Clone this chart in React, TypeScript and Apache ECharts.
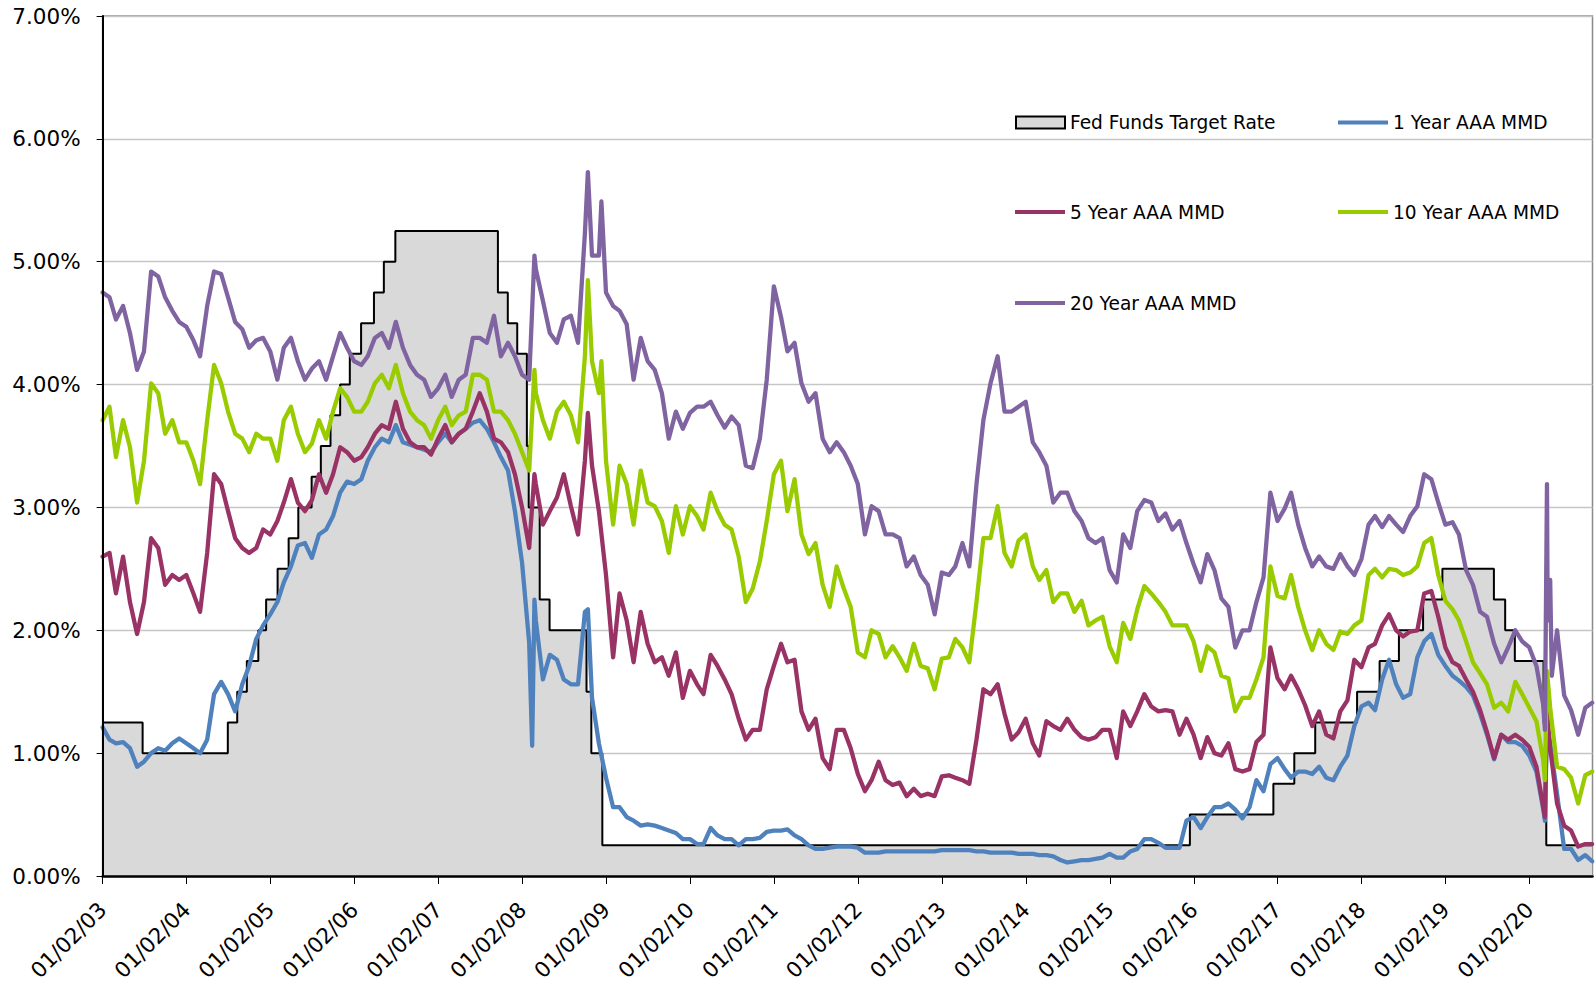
import React, { useEffect, useRef } from "react";
import * as echarts from "echarts";

const START_YEAR = 2003;
const MONTHS = 214; // Jan 2003 .. Oct 2020

// Fed Funds target rate changes (step series)
const fedDates = [
  "2003-01-02", "2003-06-25", "2004-06-30", "2004-08-10", "2004-09-21", "2004-11-10", "2004-12-14",
  "2005-02-02", "2005-03-22", "2005-05-03", "2005-06-30", "2005-08-09", "2005-09-20", "2005-11-01", "2005-12-13",
  "2006-01-31", "2006-03-28", "2006-05-10", "2006-06-29",
  "2007-09-18", "2007-10-31", "2007-12-11", "2008-01-22", "2008-01-30", "2008-03-18", "2008-04-30",
  "2008-10-08", "2008-10-29", "2008-12-16",
  "2015-12-16", "2016-12-14", "2017-03-15", "2017-06-14", "2017-12-13", "2018-03-21", "2018-06-13", "2018-09-26", "2018-12-19",
  "2019-07-31", "2019-09-18", "2019-10-30", "2020-03-03", "2020-03-15", "2020-10-01",
];
const fedRates = [
  1.25, 1.0, 1.25, 1.5, 1.75, 2.0, 2.25,
  2.5, 2.75, 3.0, 3.25, 3.5, 3.75, 4.0, 4.25,
  4.5, 4.75, 5.0, 5.25,
  4.75, 4.5, 4.25, 3.5, 3.0, 2.25, 2.0,
  1.5, 1.0, 0.25,
  0.5, 0.75, 1.0, 1.25, 1.5, 1.75, 2.0, 2.25, 2.5,
  2.25, 2.0, 1.75, 1.25, 0.25, 0.25,
];

// Monthly readings (first of each month), one row per year
const oneYear = [
  1.21, 1.11, 1.08, 1.09, 1.04, 0.89, 0.93, 1.00, 1.04, 1.02, 1.08, 1.12,
  1.08, 1.04, 1.00, 1.11, 1.48, 1.58, 1.48, 1.34, 1.56, 1.71, 1.93, 2.04,
  2.13, 2.23, 2.39, 2.52, 2.69, 2.71, 2.59, 2.78, 2.82, 2.93, 3.12, 3.21,
  3.19, 3.23, 3.38, 3.49, 3.56, 3.53, 3.67, 3.53, 3.51, 3.49, 3.47, 3.45,
  3.53, 3.60, 3.53, 3.60, 3.64, 3.69, 3.71, 3.64, 3.53, 3.41, 3.30, 2.97,
  2.55, 1.90, 2.08, 1.60, 1.80, 1.76, 1.60, 1.56, 1.56, 2.15, 1.45, 1.08,
  0.80, 0.56, 0.56, 0.48, 0.45, 0.41, 0.42, 0.41, 0.39, 0.37, 0.35, 0.30,
  0.30, 0.26, 0.26, 0.39, 0.33, 0.30, 0.30, 0.25, 0.30, 0.30, 0.31, 0.36,
  0.37, 0.37, 0.38, 0.33, 0.30, 0.25, 0.22, 0.22, 0.23, 0.24, 0.24, 0.24,
  0.23, 0.19, 0.19, 0.19, 0.20, 0.20, 0.20, 0.20, 0.20, 0.20, 0.20, 0.20,
  0.21, 0.21, 0.21, 0.21, 0.21, 0.20, 0.20, 0.19, 0.19, 0.19, 0.19, 0.18,
  0.18, 0.18, 0.17, 0.17, 0.16, 0.13, 0.11, 0.12, 0.13, 0.13, 0.14, 0.15,
  0.18, 0.15, 0.15, 0.20, 0.22, 0.30, 0.30, 0.27, 0.23, 0.23, 0.23, 0.45,
  0.48, 0.39, 0.48, 0.56, 0.56, 0.59, 0.54, 0.47, 0.56, 0.78, 0.69, 0.91,
  0.96, 0.87, 0.80, 0.85, 0.85, 0.83, 0.89, 0.80, 0.78, 0.89, 0.98, 1.22,
  1.38, 1.41, 1.35, 1.60, 1.76, 1.56, 1.45, 1.48, 1.78, 1.91, 1.97, 1.80,
  1.71, 1.63, 1.59, 1.54, 1.47, 1.32, 1.15, 0.95, 1.15, 1.09, 1.09, 1.06,
  0.98, 0.85, 0.55, 1.08, 0.67, 0.22, 0.22, 0.13, 0.17, 0.12,
];
const fiveYear = [
  2.60, 2.63, 2.30, 2.60, 2.23, 1.97, 2.23, 2.75, 2.67, 2.37, 2.45, 2.41,
  2.45, 2.30, 2.15, 2.63, 3.27, 3.19, 2.97, 2.75, 2.67, 2.63, 2.67, 2.82,
  2.78, 2.89, 3.04, 3.23, 3.04, 2.97, 3.06, 3.27, 3.12, 3.27, 3.49, 3.45,
  3.38, 3.41, 3.49, 3.60, 3.67, 3.64, 3.86, 3.64, 3.53, 3.49, 3.49, 3.43,
  3.56, 3.67, 3.53, 3.60, 3.64, 3.78, 3.93, 3.78, 3.56, 3.53, 3.45, 3.27,
  3.00, 2.67, 3.19, 2.86, 2.97, 3.08, 3.27, 3.01, 2.78, 3.38, 3.34, 2.97,
  2.45, 1.78, 2.30, 2.08, 1.74, 2.15, 1.89, 1.74, 1.78, 1.63, 1.82, 1.45,
  1.67, 1.56, 1.48, 1.80, 1.71, 1.60, 1.48, 1.28, 1.11, 1.19, 1.19, 1.52,
  1.71, 1.89, 1.74, 1.76, 1.34, 1.19, 1.28, 0.96, 0.87, 1.19, 1.19, 1.04,
  0.83, 0.69, 0.78, 0.93, 0.78, 0.74, 0.76, 0.65, 0.71, 0.65, 0.67, 0.65,
  0.81, 0.82, 0.80, 0.78, 0.75, 1.11, 1.52, 1.48, 1.56, 1.32, 1.11, 1.17,
  1.28, 1.08, 0.98, 1.26, 1.22, 1.19, 1.28, 1.19, 1.13, 1.11, 1.13, 1.19,
  1.19, 0.96, 1.34, 1.22, 1.34, 1.48, 1.38, 1.34, 1.35, 1.34, 1.15, 1.28,
  1.15, 0.96, 1.13, 1.00, 0.98, 1.08, 0.87, 0.85, 0.87, 1.09, 1.15, 1.86,
  1.61, 1.52, 1.63, 1.52, 1.39, 1.22, 1.34, 1.15, 1.12, 1.34, 1.43, 1.76,
  1.70, 1.86, 1.89, 2.04, 2.13, 2.00, 1.95, 1.99, 2.00, 2.30, 2.32, 2.11,
  1.86, 1.74, 1.71, 1.60, 1.50, 1.35, 1.17, 0.96, 1.15, 1.11, 1.15, 1.11,
  1.05, 0.89, 0.57, 1.04, 0.59, 0.41, 0.37, 0.24, 0.26, 0.26,
];
const tenYear = [
  3.71, 3.82, 3.41, 3.71, 3.49, 3.04, 3.38, 4.01, 3.93, 3.60, 3.71, 3.53,
  3.53, 3.38, 3.19, 3.71, 4.16, 4.01, 3.78, 3.60, 3.56, 3.45, 3.60, 3.56,
  3.56, 3.38, 3.71, 3.82, 3.60, 3.45, 3.52, 3.71, 3.56, 3.78, 3.97, 3.90,
  3.78, 3.78, 3.86, 4.01, 4.08, 3.97, 4.16, 3.93, 3.78, 3.71, 3.67, 3.56,
  3.71, 3.82, 3.67, 3.75, 3.78, 4.08, 4.08, 4.04, 3.78, 3.78, 3.71, 3.60,
  3.45, 3.30, 3.93, 3.71, 3.56, 3.78, 3.86, 3.75, 3.53, 4.23, 4.19, 3.93,
  3.38, 2.86, 3.34, 3.19, 2.86, 3.30, 3.04, 3.01, 2.89, 2.63, 3.01, 2.78,
  3.01, 2.93, 2.82, 3.12, 2.97, 2.86, 2.82, 2.60, 2.23, 2.34, 2.56, 2.89,
  3.27, 3.38, 2.97, 3.23, 2.78, 2.62, 2.71, 2.37, 2.19, 2.52, 2.34, 2.19,
  1.82, 1.78, 2.00, 1.97, 1.78, 1.87, 1.78, 1.67, 1.89, 1.71, 1.69, 1.52,
  1.77, 1.78, 1.93, 1.86, 1.74, 2.23, 2.75, 2.75, 3.01, 2.63, 2.52, 2.73,
  2.78, 2.52, 2.41, 2.49, 2.23, 2.30, 2.30, 2.15, 2.24, 2.04, 2.08, 2.11,
  1.87, 1.74, 2.06, 1.93, 2.17, 2.36, 2.30, 2.23, 2.15, 2.04, 2.04, 2.04,
  1.91, 1.67, 1.87, 1.82, 1.63, 1.61, 1.34, 1.45, 1.45, 1.60, 1.78, 2.52,
  2.28, 2.26, 2.45, 2.19, 2.00, 1.84, 2.00, 1.89, 1.84, 1.99, 1.97, 2.04,
  2.08, 2.45, 2.50, 2.43, 2.50, 2.49, 2.45, 2.47, 2.52, 2.71, 2.75, 2.45,
  2.24, 2.17, 2.08, 1.91, 1.74, 1.65, 1.56, 1.37, 1.41, 1.34, 1.58, 1.48,
  1.37, 1.26, 0.95, 1.37, 0.89, 0.87, 0.80, 0.59, 0.82, 0.85,
];
const twentyYear = [
  4.75, 4.71, 4.53, 4.64, 4.42, 4.12, 4.27, 4.92, 4.88, 4.71, 4.60, 4.51,
  4.47, 4.36, 4.23, 4.64, 4.92, 4.90, 4.71, 4.51, 4.45, 4.30, 4.36, 4.38,
  4.27, 4.04, 4.30, 4.38, 4.19, 4.04, 4.13, 4.19, 4.04, 4.23, 4.42, 4.30,
  4.19, 4.16, 4.23, 4.38, 4.42, 4.30, 4.51, 4.30, 4.16, 4.08, 4.04, 3.90,
  3.97, 4.08, 3.90, 4.04, 4.08, 4.38, 4.38, 4.34, 4.56, 4.23, 4.34, 4.23,
  4.08, 4.04, 4.94, 4.68, 4.42, 4.34, 4.53, 4.56, 4.34, 5.23, 5.05, 5.05,
  4.75, 4.64, 4.60, 4.49, 4.04, 4.38, 4.19, 4.12, 3.93, 3.56, 3.78, 3.64,
  3.77, 3.82, 3.82, 3.86, 3.75, 3.65, 3.74, 3.67, 3.34, 3.32, 3.56, 4.04,
  4.80, 4.55, 4.27, 4.34, 4.01, 3.86, 3.93, 3.56, 3.45, 3.53, 3.45, 3.34,
  3.19, 2.78, 3.01, 2.97, 2.78, 2.78, 2.75, 2.52, 2.60, 2.45, 2.37, 2.13,
  2.47, 2.45, 2.52, 2.71, 2.52, 3.19, 3.71, 4.01, 4.23, 3.78, 3.78, 3.82,
  3.86, 3.53, 3.45, 3.34, 3.04, 3.12, 3.12, 2.97, 2.89, 2.75, 2.71, 2.75,
  2.49, 2.39, 2.78, 2.67, 2.97, 3.06, 3.04, 2.89, 2.95, 2.82, 2.89, 2.71,
  2.54, 2.39, 2.62, 2.49, 2.26, 2.19, 1.86, 2.00, 2.00, 2.23, 2.43, 3.12,
  2.89, 2.99, 3.12, 2.86, 2.67, 2.52, 2.60, 2.52, 2.50, 2.62, 2.52, 2.45,
  2.58, 2.86, 2.93, 2.84, 2.93, 2.86, 2.80, 2.93, 3.01, 3.27, 3.23, 3.04,
  2.86, 2.88, 2.78, 2.49, 2.37, 2.15, 2.11, 1.89, 1.74, 1.86, 2.00, 1.91,
  1.86, 1.71, 1.40, 2.41, 2.00, 1.47, 1.35, 1.15, 1.37, 1.41,
];

// Extra readings between month starts (spikes); null = no extra reading
const extraDates = ["2008-02-14", "2008-02-24", "2008-10-14", "2008-12-12", "2020-03-09", "2020-03-18", "2020-03-21", "2020-04-08"];
const oneYearExtra = [1.06, 2.25, 2.17, null, 0.45, 1.22, null, null];
const fiveYearExtra = [null, 3.27, 3.77, null, 0.48, 1.34, null, null];
const tenYearExtra = [null, 4.12, 4.85, 4.19, 0.78, 1.67, null, null];
const twentyYearExtra = [null, 5.05, 5.73, 5.49, 1.19, 3.19, 2.08, 1.63];

const yTicks = [0, 1, 2, 3, 4, 5, 6, 7];
const yearTicks = [0, 1, 2, 3, 4, 5, 6, 7, 8, 9, 10, 11, 12, 13, 14, 15, 16, 17];

const FONT = "'DejaVu Sans', Verdana, sans-serif";

function toYears(dateStr: string): number {
  const [y, m, d] = dateStr.split("-").map(Number);
  const ms = Date.UTC(y, m - 1, d);
  let base = y;
  if (ms < Date.UTC(y, 0, 2)) base = y - 1;
  const a = Date.UTC(base, 0, 2);
  const b = Date.UTC(base + 1, 0, 2);
  return base - START_YEAR + (ms - a) / (b - a);
}

function monthDate(i: number): string {
  const y = START_YEAR + Math.floor(i / 12);
  const m = (i % 12) + 1;
  const d = i === 0 ? 2 : 1;
  return `${y}-${String(m).padStart(2, "0")}-${String(d).padStart(2, "0")}`;
}

function buildSeries(values: number[], extra: (number | null)[]): number[][] {
  const pts: number[][] = [];
  for (let i = 0; i < Math.min(values.length, MONTHS); i++) pts.push([toYears(monthDate(i)), values[i]]);
  extra.forEach((v, k) => {
    if (v !== null && v !== undefined) pts.push([toYears(extraDates[k]), v]);
  });
  pts.sort((p, q) => p[0] - q[0]);
  return pts;
}

export default function App() {
  const ref = useRef<HTMLDivElement>(null);

  useEffect(() => {
    if (!ref.current) return;
    const chart = echarts.init(ref.current, undefined, { renderer: "svg" });

    const fedData = fedDates.map((d, i) => [toYears(d), fedRates[i]]);

    const lineSeries = (name: string, color: string, data: number[][]) => ({
      name,
      type: "line",
      data,
      symbol: "none",
      silent: true,
      color,
      lineStyle: { color, width: 4.3, join: "round", cap: "round" },
      itemStyle: { color },
      emphasis: { disabled: true },
    });

    const legendBase = {
      orient: "horizontal",
      padding: 0,
      selectedMode: false,
      itemGap: 0,
      textStyle: { fontSize: 18.6, color: "#000", fontFamily: FONT, lineHeight: 22 },
    };

    const lineLegend = (name: string, color: string, left: number, top: number) => ({
      ...legendBase,
      left,
      top,
      itemWidth: 50,
      itemHeight: 4,
      data: [{ name, icon: "rect", itemStyle: { color } }],
    });

    const option: any = {
      animation: false,
      textStyle: { fontFamily: FONT },
      grid: {
        left: 102.6,
        right: 2.5,
        top: 16,
        bottom: 110,
        show: true,
        borderColor: "#8a8a8a",
        borderWidth: 1.5,
        backgroundColor: "transparent",
      },
      xAxis: {
        type: "value",
        min: 0,
        max: 17.75,
        interval: 1,
        z: 10,
        axisLine: { show: true, onZero: false, lineStyle: { color: "#000", width: 2.5 } },
        axisTick: { show: true, length: 8, customValues: yearTicks, lineStyle: { color: "#000", width: 1 } },
        axisLabel: {
          rotate: 45,
          margin: 30,
          fontSize: 21.5,
          color: "#000",
          fontFamily: FONT,
          customValues: yearTicks,
          formatter: (v: number) =>
            Math.abs(v - Math.round(v)) < 1e-6
              ? "01/02/" + String((START_YEAR + Math.round(v)) % 100).padStart(2, "0")
              : "",
        },
        splitLine: { show: false },
      },
      yAxis: [
        {
          type: "value",
          min: 0,
          max: 7,
          interval: 1,
          axisLine: { show: false },
          axisTick: { show: true, length: 6, customValues: yTicks, lineStyle: { color: "#000", width: 1 } },
          axisLabel: {
            margin: 22,
            fontSize: 21.5,
            color: "#000",
            fontFamily: FONT,
            formatter: (v: number) => v.toFixed(2) + "%",
          },
          splitLine: { show: true, lineStyle: { color: "#c6c6c6", width: 1.3 } },
        },
        {
          type: "value",
          min: 0,
          max: 7,
          interval: 1,
          position: "left",
          z: 10,
          axisLine: { show: true, lineStyle: { color: "#000", width: 2 } },
          axisTick: { show: false },
          axisLabel: { show: false },
          splitLine: { show: false },
        },
      ],
      legend: [
        {
          ...legendBase,
          left: 1015,
          top: 111.5,
          itemWidth: 49,
          itemHeight: 12,
          data: [
            {
              name: "Fed Funds Target Rate",
              icon: "rect",
              itemStyle: { color: "#d9d9d9", borderColor: "#000", borderWidth: 2 },
            },
          ],
        },
        lineLegend("1 Year AAA MMD", "#4f81bd", 1338, 111.5),
        lineLegend("5 Year AAA MMD", "#993366", 1015, 201),
        lineLegend("10 Year AAA MMD", "#99cc00", 1338, 201),
        lineLegend("20 Year AAA MMD", "#8064a2", 1015, 292),
      ],
      series: [
        {
          name: "Fed Funds Target Rate",
          type: "line",
          step: "end",
          data: fedData,
          symbol: "none",
          silent: true,
          color: "#d9d9d9",
          lineStyle: { color: "#000", width: 2 },
          areaStyle: { color: "#d9d9d9", opacity: 1 },
          itemStyle: { color: "#d9d9d9" },
          emphasis: { disabled: true },
        },
        lineSeries("1 Year AAA MMD", "#4f81bd", buildSeries(oneYear, oneYearExtra)),
        lineSeries("5 Year AAA MMD", "#993366", buildSeries(fiveYear, fiveYearExtra)),
        lineSeries("10 Year AAA MMD", "#99cc00", buildSeries(tenYear, tenYearExtra)),
        lineSeries("20 Year AAA MMD", "#8064a2", buildSeries(twentyYear, twentyYearExtra)),
      ],
    };

    chart.setOption(option);
    return () => chart.dispose();
  }, []);

  return (
    <div
      ref={ref}
      style={{ position: "fixed", left: 0, top: 0, width: 1595, height: 986, background: "#fff" }}
    />
  );
}
